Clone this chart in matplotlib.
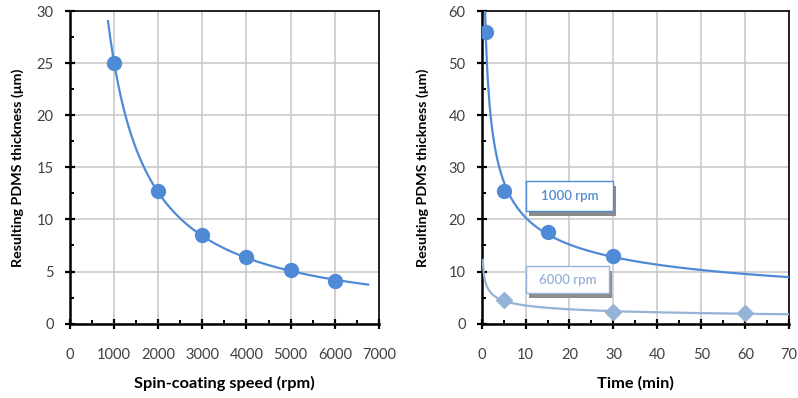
import numpy as np
import matplotlib
matplotlib.use("Agg")
import matplotlib.pyplot as plt
from matplotlib.patches import Rectangle
from matplotlib.ticker import MultipleLocator

plt.rcParams['font.family'] = ['Lato', 'DejaVu Sans']

BLUE, LIGHT, GRID = "#4f8ad6", "#95b3d7", "#c9c9c9"

# left panel: thickness vs spin speed
speed = [1000, 2000, 3000, 4000, 5000, 6000]
thick_speed = [25.0, 12.7, 8.5, 6.4, 5.1, 4.1]

# right panel: thickness vs time, two spin speeds
time_1000 = [1, 5, 15, 30]
thick_1000 = [56.0, 25.5, 17.5, 13.0]
time_6000 = [5, 30, 60]
thick_6000 = [4.5, 2.2, 2.0]


def power_fit(x, y, x0, x1):
    b, a = np.polyfit(np.log(x), np.log(y), 1)
    xs = np.linspace(x0, x1, 300)
    return xs, np.exp(a) * xs ** b


def style(ax, xmax, xmaj, xmin, ymax, ymaj, ymin, xlabel, ypad):
    ax.set_xlim(0, xmax); ax.set_ylim(0, ymax)
    ax.xaxis.set_major_locator(MultipleLocator(xmaj)); ax.xaxis.set_minor_locator(MultipleLocator(xmin))
    ax.yaxis.set_major_locator(MultipleLocator(ymaj)); ax.yaxis.set_minor_locator(MultipleLocator(ymin))
    ax.grid(True, which="major", color=GRID, lw=1.2, zorder=0)
    ax.set_axisbelow(True)
    for s in ("left", "bottom"):
        ax.spines[s].set_linewidth(1.8)
    for s in ("top", "right"):
        ax.spines[s].set_linewidth(1.2)
    ax.tick_params(which="major", direction="inout", length=7, width=1.6, labelsize=10.5,
                   labelcolor="#404040", top=False, right=False)
    ax.tick_params(which="minor", direction="in", length=3, width=1.4, top=False, right=False)
    ax.tick_params(axis="x", which="major", pad=14)
    ax.tick_params(axis="y", which="major", pad=8)
    ax.set_xlabel(xlabel, fontsize=11.8, fontweight="bold", labelpad=10)
    ax.set_ylabel("Resulting PDMS thickness (μm)", fontsize=10.3, fontweight="bold", labelpad=ypad)


def label_box(ax, x0, x1, y0, y1, text, color):
    ax.add_patch(Rectangle((x0 + 0.6, y0 - 0.9), x1 - x0, y1 - y0, facecolor="#8c8c8c",
                           edgecolor="none", zorder=4))
    ax.add_patch(Rectangle((x0, y0), x1 - x0, y1 - y0, facecolor="white", edgecolor=color,
                           lw=1.0, zorder=5))
    ax.text((x0 + x1) / 2, (y0 + y1) / 2, text, ha="center", va="center", fontsize=9.5,
            color=color, fontweight="semibold", zorder=6)


fig = plt.figure(figsize=(7.98, 3.98), dpi=100)
ax1 = fig.add_axes([0.0871, 0.187, 0.388, 0.785])
ax2 = fig.add_axes([0.6035, 0.187, 0.3855, 0.785])

xs, ys = power_fit(speed, thick_speed, 870, 6750)
ax1.plot(xs, ys, color=BLUE, lw=1.6, zorder=3)
ax1.plot(speed, thick_speed, "o", color=BLUE, ms=10, zorder=4)
style(ax1, 7000, 1000, 500, 30, 5, 2.5, "Spin-coating speed (rpm)", 9)

xs, ys = power_fit(time_1000, thick_1000, 0.5, 70)
ax2.plot(xs, ys, color=BLUE, lw=1.6, zorder=3)
ax2.plot(time_1000, thick_1000, "o", color=BLUE, ms=10, zorder=4)
xs, ys = power_fit(time_6000, thick_6000, 0.25, 70)
ax2.plot(xs, ys, color=LIGHT, lw=1.6, zorder=3)
ax2.plot(time_6000, thick_6000, "D", color=LIGHT, ms=8, zorder=4)
style(ax2, 70, 10, 5, 60, 10, 5, "Time (min)", 14)

label_box(ax2, 10.1, 29.9, 21.6, 27.4, "1000 rpm", BLUE)
label_box(ax2, 10.1, 29.0, 5.9, 11.0, "6000 rpm", LIGHT)

fig.savefig("out.png", dpi=100, facecolor="white")
